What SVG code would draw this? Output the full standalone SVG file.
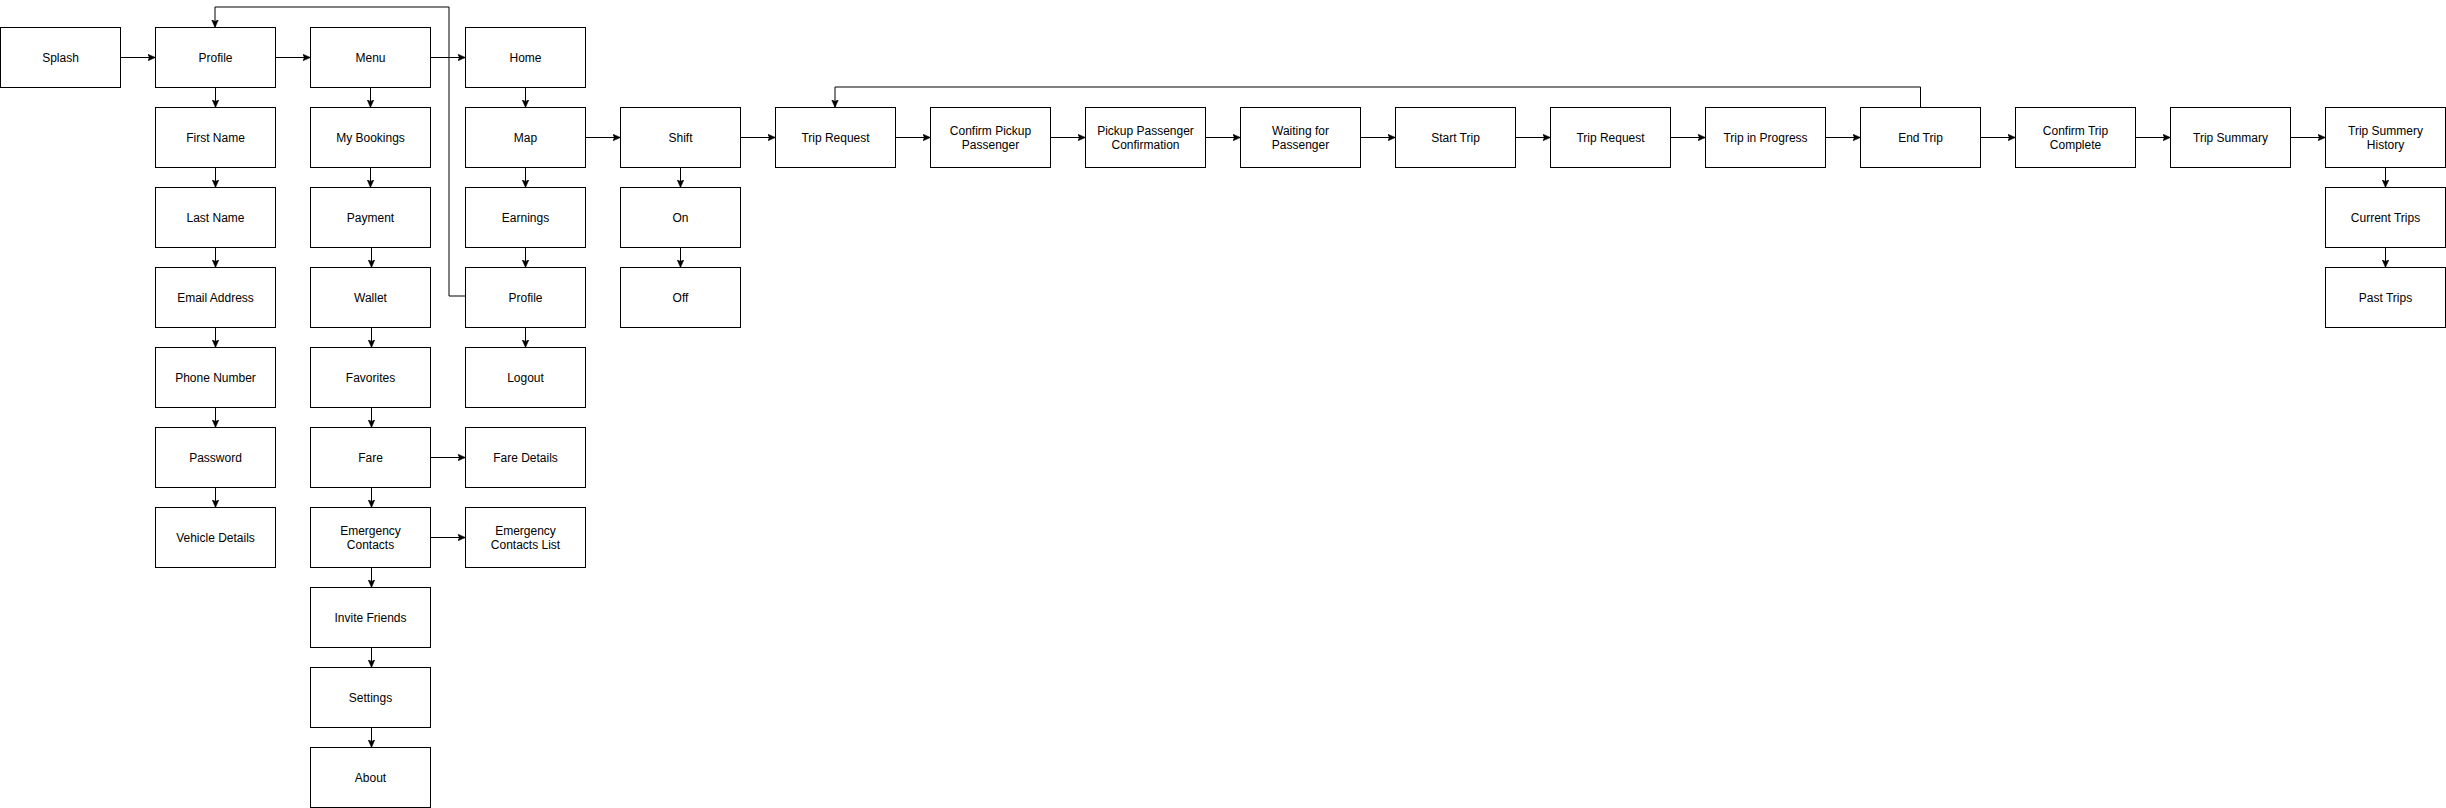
<svg xmlns="http://www.w3.org/2000/svg" width="2446" height="808" viewBox="0 0 2446 808">
<style>
.n rect{fill:#fff;stroke:#000;stroke-width:1}
.n text{font-family:"Liberation Sans",Arial,Helvetica,sans-serif;font-size:12px;fill:#000;text-anchor:middle}
.e path{fill:none;stroke:#000;stroke-width:1;marker-end:url(#arr)}
</style>
<defs>
<marker id="arr" markerUnits="userSpaceOnUse" viewBox="0 0 8 8" refX="8" refY="4" markerWidth="8" markerHeight="8" orient="auto">
<path d="M0,0.5 L8,4 L0,7.5 L2,4 Z" fill="#000" stroke="#000" stroke-width="0.5"/>
</marker>
</defs>
<rect width="2446" height="808" fill="#fff"/>
<g id="connectors" class="e">
<path d="M120.5,57.5 H155.5"/>
<path d="M275.5,57.5 H310.5"/>
<path d="M430.5,57.5 H465.5"/>
<path d="M215.5,87.5 V107.5"/>
<path d="M215.5,167.5 V187.5"/>
<path d="M215.5,247.5 V267.5"/>
<path d="M215.5,327.5 V347.5"/>
<path d="M215.5,407.5 V427.5"/>
<path d="M215.5,487.5 V507.5"/>
<path d="M370.5,87.5 V107.5"/>
<path d="M370.5,167.5 V187.5"/>
<path d="M371.5,247.5 V267.5"/>
<path d="M371.5,327.5 V347.5"/>
<path d="M371.5,407.5 V427.5"/>
<path d="M371.5,487.5 V507.5"/>
<path d="M371.5,567.5 V587.5"/>
<path d="M371.5,647.5 V667.5"/>
<path d="M371.5,727.5 V747.5"/>
<path d="M525.5,87.5 V107.5"/>
<path d="M525.5,167.5 V187.5"/>
<path d="M525.5,247.5 V267.5"/>
<path d="M525.5,327.5 V347.5"/>
<path d="M430.5,457.5 H465.5"/>
<path d="M430.5,537.5 H465.5"/>
<path d="M465.5,296 H449 V7 H215 V27.5"/>
<path d="M585.5,137.5 H620.5"/>
<path d="M680.5,167.5 V187.5"/>
<path d="M680.5,247.5 V267.5"/>
<path d="M740.5,137.5 H775.5"/>
<path d="M895.5,137.5 H930.5"/>
<path d="M1050.5,137.5 H1085.5"/>
<path d="M1205.5,137.5 H1240.5"/>
<path d="M1360.5,137.5 H1395.5"/>
<path d="M1515.5,137.5 H1550.5"/>
<path d="M1670.5,137.5 H1705.5"/>
<path d="M1825.5,137.5 H1860.5"/>
<path d="M1980.5,137.5 H2015.5"/>
<path d="M2135.5,137.5 H2170.5"/>
<path d="M2290.5,137.5 H2325.5"/>
<path d="M1920.5,107.5 V87 H835 V107.5"/>
<path d="M2385.5,167.5 V187.5"/>
<path d="M2385.5,247.5 V267.5"/>
</g>
<g id="splash" class="n"><rect x="0.5" y="27.5" width="120" height="60"/><text x="60.5" y="61.5">Splash</text></g>
<g id="profile" class="n"><rect x="155.5" y="27.5" width="120" height="60"/><text x="215.5" y="61.5">Profile</text></g>
<g id="first-name" class="n"><rect x="155.5" y="107.5" width="120" height="60"/><text x="215.5" y="141.5">First Name</text></g>
<g id="last-name" class="n"><rect x="155.5" y="187.5" width="120" height="60"/><text x="215.5" y="221.5">Last Name</text></g>
<g id="email-address" class="n"><rect x="155.5" y="267.5" width="120" height="60"/><text x="215.5" y="301.5">Email Address</text></g>
<g id="phone-number" class="n"><rect x="155.5" y="347.5" width="120" height="60"/><text x="215.5" y="381.5">Phone Number</text></g>
<g id="password" class="n"><rect x="155.5" y="427.5" width="120" height="60"/><text x="215.5" y="461.5">Password</text></g>
<g id="vehicle-details" class="n"><rect x="155.5" y="507.5" width="120" height="60"/><text x="215.5" y="541.5">Vehicle Details</text></g>
<g id="menu" class="n"><rect x="310.5" y="27.5" width="120" height="60"/><text x="370.5" y="61.5">Menu</text></g>
<g id="my-bookings" class="n"><rect x="310.5" y="107.5" width="120" height="60"/><text x="370.5" y="141.5">My Bookings</text></g>
<g id="payment" class="n"><rect x="310.5" y="187.5" width="120" height="60"/><text x="370.5" y="221.5">Payment</text></g>
<g id="wallet" class="n"><rect x="310.5" y="267.5" width="120" height="60"/><text x="370.5" y="301.5">Wallet</text></g>
<g id="favorites" class="n"><rect x="310.5" y="347.5" width="120" height="60"/><text x="370.5" y="381.5">Favorites</text></g>
<g id="fare" class="n"><rect x="310.5" y="427.5" width="120" height="60"/><text x="370.5" y="461.5">Fare</text></g>
<g id="emergency-contacts" class="n"><rect x="310.5" y="507.5" width="120" height="60"/><text x="370.5" y="534.5">Emergency</text><text x="370.5" y="548.5">Contacts</text></g>
<g id="invite-friends" class="n"><rect x="310.5" y="587.5" width="120" height="60"/><text x="370.5" y="621.5">Invite Friends</text></g>
<g id="settings" class="n"><rect x="310.5" y="667.5" width="120" height="60"/><text x="370.5" y="701.5">Settings</text></g>
<g id="about" class="n"><rect x="310.5" y="747.5" width="120" height="60"/><text x="370.5" y="781.5">About</text></g>
<g id="home" class="n"><rect x="465.5" y="27.5" width="120" height="60"/><text x="525.5" y="61.5">Home</text></g>
<g id="map" class="n"><rect x="465.5" y="107.5" width="120" height="60"/><text x="525.5" y="141.5">Map</text></g>
<g id="earnings" class="n"><rect x="465.5" y="187.5" width="120" height="60"/><text x="525.5" y="221.5">Earnings</text></g>
<g id="home-profile" class="n"><rect x="465.5" y="267.5" width="120" height="60"/><text x="525.5" y="301.5">Profile</text></g>
<g id="logout" class="n"><rect x="465.5" y="347.5" width="120" height="60"/><text x="525.5" y="381.5">Logout</text></g>
<g id="fare-details" class="n"><rect x="465.5" y="427.5" width="120" height="60"/><text x="525.5" y="461.5">Fare Details</text></g>
<g id="emergency-contacts-list" class="n"><rect x="465.5" y="507.5" width="120" height="60"/><text x="525.5" y="534.5">Emergency</text><text x="525.5" y="548.5">Contacts List</text></g>
<g id="shift" class="n"><rect x="620.5" y="107.5" width="120" height="60"/><text x="680.5" y="141.5">Shift</text></g>
<g id="on" class="n"><rect x="620.5" y="187.5" width="120" height="60"/><text x="680.5" y="221.5">On</text></g>
<g id="off" class="n"><rect x="620.5" y="267.5" width="120" height="60"/><text x="680.5" y="301.5">Off</text></g>
<g id="trip-request-1" class="n"><rect x="775.5" y="107.5" width="120" height="60"/><text x="835.5" y="141.5">Trip Request</text></g>
<g id="confirm-pickup-passenger" class="n"><rect x="930.5" y="107.5" width="120" height="60"/><text x="990.5" y="134.5">Confirm Pickup</text><text x="990.5" y="148.5">Passenger</text></g>
<g id="pickup-passenger-confirmation" class="n"><rect x="1085.5" y="107.5" width="120" height="60"/><text x="1145.5" y="134.5">Pickup Passenger</text><text x="1145.5" y="148.5">Confirmation</text></g>
<g id="waiting-for-passenger" class="n"><rect x="1240.5" y="107.5" width="120" height="60"/><text x="1300.5" y="134.5">Waiting for</text><text x="1300.5" y="148.5">Passenger</text></g>
<g id="start-trip" class="n"><rect x="1395.5" y="107.5" width="120" height="60"/><text x="1455.5" y="141.5">Start Trip</text></g>
<g id="trip-request-2" class="n"><rect x="1550.5" y="107.5" width="120" height="60"/><text x="1610.5" y="141.5">Trip Request</text></g>
<g id="trip-in-progress" class="n"><rect x="1705.5" y="107.5" width="120" height="60"/><text x="1765.5" y="141.5">Trip in Progress</text></g>
<g id="end-trip" class="n"><rect x="1860.5" y="107.5" width="120" height="60"/><text x="1920.5" y="141.5">End Trip</text></g>
<g id="confirm-trip-complete" class="n"><rect x="2015.5" y="107.5" width="120" height="60"/><text x="2075.5" y="134.5">Confirm Trip</text><text x="2075.5" y="148.5">Complete</text></g>
<g id="trip-summary" class="n"><rect x="2170.5" y="107.5" width="120" height="60"/><text x="2230.5" y="141.5">Trip Summary</text></g>
<g id="trip-summery-history" class="n"><rect x="2325.5" y="107.5" width="120" height="60"/><text x="2385.5" y="134.5">Trip Summery</text><text x="2385.5" y="148.5">History</text></g>
<g id="current-trips" class="n"><rect x="2325.5" y="187.5" width="120" height="60"/><text x="2385.5" y="221.5">Current Trips</text></g>
<g id="past-trips" class="n"><rect x="2325.5" y="267.5" width="120" height="60"/><text x="2385.5" y="301.5">Past Trips</text></g>
</svg>
